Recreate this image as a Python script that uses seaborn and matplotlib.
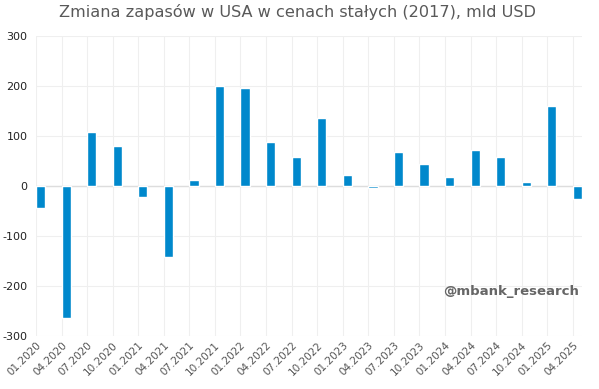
import numpy as np
import pandas as pd
import seaborn as sns
import matplotlib
matplotlib.use("Agg")
import matplotlib.pyplot as plt

# Quarterly change in private inventories (real, 2017 USD bn)
quarters = ["01.2020", "04.2020", "07.2020", "10.2020",
            "01.2021", "04.2021", "07.2021", "10.2021",
            "01.2022", "04.2022", "07.2022", "10.2022",
            "01.2023", "04.2023", "07.2023", "10.2023",
            "01.2024", "04.2024", "07.2024", "10.2024",
            "01.2025", "04.2025"]
values = [-43, -264, 109, 80,
          -21, -142, 12, 201,
          197, 88, 59, 137,
          22, -3, 69, 45,
          19, 73, 59, 9,
          161, -26]

df = pd.DataFrame({"quarter": quarters, "value": values})

sns.set_theme(style="white")
plt.rcParams["font.family"] = ["DejaVu Sans"]
plt.rcParams["axes.unicode_minus"] = False

fig = plt.figure(figsize=(5.99, 3.89), dpi=100)
ax = fig.add_axes([36 / 599, 1 - 336 / 389, (582 - 36) / 599, 300 / 389])

# seaborn draws the bars; shift them so the left edge sits on the tick
sns.barplot(data=df, x="quarter", y="value", color="#0088cc",
            saturation=1, width=0.36, ax=ax, zorder=3)
for p in ax.patches:
    p.set_x(p.get_x() + p.get_width() / 2)

ax.set_xlim(0, len(quarters) - 1 + 0.36)
ax.set_ylim(-300, 300)
ax.set_yticks(range(-300, 301, 100))
ax.set_xticks(range(len(quarters)))
ax.set_xticklabels(quarters, rotation=45, ha="right", rotation_mode="anchor",
                   fontsize=7.5, color="#555555")
ax.tick_params(axis="y", labelsize=8, colors="#222222", length=0, pad=6)
ax.tick_params(axis="x", length=0, pad=3)
ax.set_xlabel("")
ax.set_ylabel("")

ax.grid(True, color="#efefef", linewidth=0.8, zorder=0)
ax.axhline(0, color="#dddddd", linewidth=1, zorder=2)
for s in ax.spines.values():
    s.set_visible(False)

fig.suptitle("Zmiana zapasów w USA w cenach stałych (2017), mld USD",
             x=0.496, y=0.99, fontsize=11.6, color="#595959")
ax.text(0.995, -210, "@mbank_research", transform=ax.get_yaxis_transform(),
        ha="right", va="center", fontsize=9.5, fontweight="bold", color="#666666")

fig.savefig("out.png", dpi=100)
